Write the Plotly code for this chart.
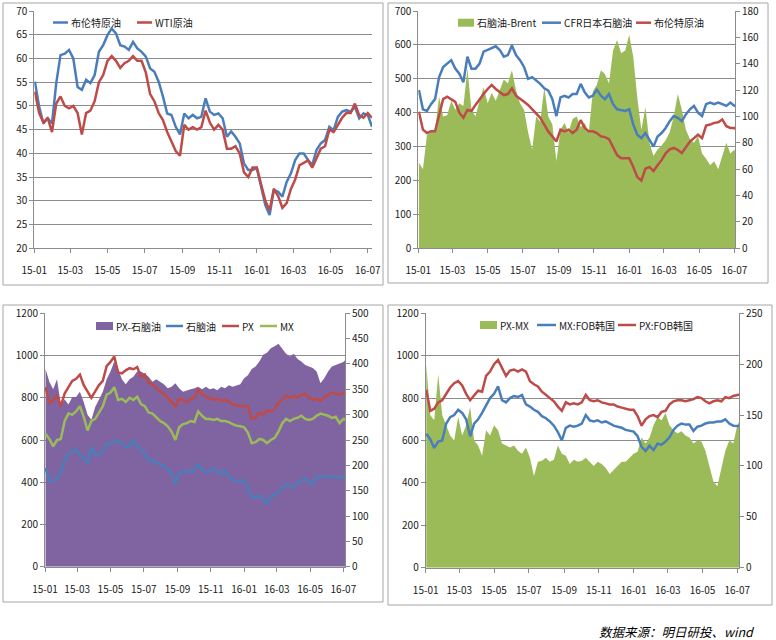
import pandas as pd
import plotly.graph_objects as go

# ---------------- data (weekly readings) ----------------
dates = pd.date_range("2015-01-02", periods=80, freq="7D")

tick_vals = ["2015-01-01", "2015-03-01", "2015-05-01", "2015-07-01", "2015-09-01",
             "2015-11-01", "2016-01-01", "2016-03-01", "2016-05-01", "2016-07-01"]
tick_text = ["15-01", "15-03", "15-05", "15-07", "15-09",
             "15-11", "16-01", "16-03", "16-05", "16-07"]

# Panel 1 ($/bbl)
brent = [55.1, 49.8, 46.3, 47.4, 46.3, 54.8, 60.7, 61.0, 61.8, 60.0,
         54.0, 53.4, 55.5, 54.8, 56.5, 61.4, 62.8, 64.9, 66.3, 65.3,
         62.8, 62.5, 61.8, 63.5, 62.1, 61.4, 60.4, 57.9, 57.2, 55.1,
         52.0, 48.4, 48.1, 45.6, 44.0, 48.4, 47.4, 48.1, 47.4, 47.7,
         51.6, 48.8, 48.1, 48.4, 47.4, 43.5, 44.6, 43.5, 42.1, 37.9,
         36.5, 36.5, 36.9, 33.0, 29.1, 27.0, 32.3, 31.9, 30.9, 34.0,
         35.8, 38.6, 40.0, 40.0, 38.6, 37.6, 40.7, 42.1, 42.8, 45.6,
         44.9, 47.7, 48.8, 49.1, 48.8, 49.8, 47.4, 48.4, 48.1, 45.6]
wti = [53.0, 48.5, 46.5, 47.5, 44.5, 50.5, 52.0, 50.0, 49.5, 50.0,
       48.5, 44.0, 48.5, 49.0, 51.0, 55.0, 56.5, 59.5, 60.5, 59.5,
       58.0, 59.0, 59.5, 60.5, 59.5, 59.5, 57.0, 52.5, 51.0, 48.5,
       47.0, 44.5, 42.5, 40.5, 39.5, 46.0, 45.0, 45.5, 45.0, 45.5,
       49.0, 46.5, 45.0, 46.0, 45.0, 41.0, 41.0, 41.5, 40.0, 36.0,
       35.0, 37.0, 37.0, 33.5, 30.0, 28.0, 32.5, 31.0, 28.5, 29.5,
       32.5, 34.5, 37.5, 38.0, 38.5, 37.0, 39.0, 41.0, 41.5, 45.0,
       44.5, 46.0, 47.5, 48.5, 48.5, 50.5, 48.0, 47.5, 48.5, 47.5]

# Panel 2
naphtha_brent = [65, 60, 86, 88, 90, 115, 100, 101, 112, 105,
                 110, 108, 136, 105, 100, 112, 122, 110, 118, 112,
                 120, 128, 125, 135, 120, 110, 105, 88, 75, 100,
                 96, 122, 100, 94, 66, 90, 95, 88, 98, 100,
                 92, 95, 88, 119, 124, 135, 132, 125, 150, 158,
                 148, 150, 162, 145, 114, 90, 107, 80, 70, 75,
                 78, 82, 88, 100, 117, 105, 90, 83, 80, 85,
                 72, 68, 63, 66, 60, 70, 80, 72, 75, 65]
naphtha = [467, 410, 405, 425, 440, 505, 535, 545, 555, 530,
           515, 490, 565, 530, 530, 545, 580, 585, 590, 596,
           585, 565, 570, 598, 570, 555, 535, 500, 505, 495,
           485, 472, 465, 440, 390, 445, 450, 445, 455, 455,
           485, 460, 445, 450, 468, 450, 440, 455, 425, 410,
           408, 405, 410, 365, 335, 325, 340, 320, 300, 330,
           340, 355, 375, 390, 385, 375, 395, 410, 420, 400,
           390, 425, 430, 425, 430, 425, 420, 430, 420, 425]
brent_t = [403, 350, 340, 345, 345, 395, 440, 447, 440, 432,
           400, 385, 408, 405, 423, 440, 455, 470, 482, 470,
           462, 452, 455, 472, 450, 440, 432, 423, 410, 400,
           385, 365, 344, 330, 315, 350, 345, 350, 340, 350,
           378, 355, 345, 345, 340, 330, 328, 322, 300, 275,
           266, 266, 266, 240, 210, 200, 235, 240, 228, 245,
           260, 280, 292, 296, 290, 281, 300, 315, 325, 335,
           325, 362, 365, 370, 372, 380, 360, 355, 355, 345]

# Panel 3
px_naphtha = [390, 365, 350, 370, 320, 330, 320, 335, 335, 345,
              325, 300, 290, 315, 330, 345, 370, 385, 405, 390,
              370, 360, 370, 375, 385, 385, 380, 375, 365, 370,
              365, 360, 352, 355, 362, 352, 345, 348, 350, 352,
              355, 350, 355, 350, 352, 348, 355, 352, 358, 355,
              358, 360, 372, 378, 390, 395, 405, 418, 422, 431,
              435, 440, 430, 420, 415, 420, 410, 405, 398, 395,
              392, 385, 362, 372, 385, 395, 398, 400, 404, 412]
px = [850, 775, 790, 810, 760, 820, 850, 880, 890, 910,
      860, 830, 800, 830, 860, 880, 950, 970, 995, 920,
      915, 930, 940, 935, 945, 900, 910, 870, 865, 845,
      830, 820, 800, 775, 760, 795, 790, 780, 795, 800,
      840, 815, 805, 800, 790, 795, 785, 790, 780, 770,
      765, 760, 762, 758, 700, 705, 730, 720, 740, 735,
      745, 775, 790, 810, 800, 810, 800, 815, 820, 800,
      790, 795, 785, 800, 815, 825, 820, 815, 825, 830]
mx = [630, 605, 570, 600, 605, 690, 725, 720, 735, 760,
      710, 645, 690, 700, 730, 760, 815, 825, 850, 790,
      795, 780, 800, 790, 805, 770, 760, 730, 725, 705,
      690, 680, 665, 640, 600, 660, 675, 680, 690, 685,
      735, 715, 700, 700, 695, 700, 690, 690, 685, 675,
      668, 665, 660, 635, 585, 590, 605, 600, 585, 600,
      610, 640, 680, 700, 690, 700, 705, 715, 700, 695,
      700, 715, 725, 720, 715, 705, 710, 680, 700, 695]

# Panel 4
px_mx = [200, 150, 145, 190, 150, 140, 130, 125, 148, 130,
         140, 158, 125, 120, 110, 135, 130, 140, 135, 122,
         120, 118, 120, 115, 112, 118, 108, 90, 104, 105,
         108, 104, 106, 120, 112, 110, 102, 106, 104, 105,
         108, 104, 100, 104, 102, 98, 92, 96, 100, 104,
         104, 108, 112, 114, 128, 122, 128, 140, 148, 145,
         152, 140, 135, 132, 134, 130, 128, 122, 125, 124,
         115, 100, 85, 80, 98, 115, 125, 122, 140, 147]
mx_fob_korea = [632, 605, 565, 595, 600, 680, 710, 720, 745, 730,
                700, 620, 680, 700, 730, 765, 800, 820, 855, 790,
                780, 800, 810, 805, 815, 770, 760, 745, 735, 715,
                705, 690, 670, 640, 600, 660, 670, 665, 670, 680,
                720, 695, 690, 695, 685, 690, 680, 670, 665, 660,
                650, 645, 642, 620, 570, 550, 575, 555, 585, 580,
                595, 615, 650, 670, 680, 675, 675, 645, 665, 670,
                680, 685, 685, 690, 690, 700, 680, 670, 670, 668]
px_fob_korea = [840, 740, 750, 780, 790, 820, 850, 870, 880, 860,
                820, 790, 810, 835, 830, 905, 925, 960, 980, 940,
                905, 930, 935, 925, 935, 925, 880, 865, 855, 830,
                815, 800, 785, 760, 740, 780, 770, 775, 770, 780,
                815, 790, 785, 790, 780, 775, 770, 770, 760, 755,
                750, 745, 745, 715, 670, 700, 715, 720, 710, 735,
                740, 770, 785, 790, 790, 785, 790, 795, 805, 800,
                785, 775, 785, 790, 785, 805, 800, 810, 815, 818]

# ---------------- styling ----------------
W, H = 776, 640
BLUE = "#4A7EBB"
RED = "#BE4B48"
GREEN_LINE = "#9BBB59"
GREEN_FILL = "#9BBB59"
PURPLE = "#8064A2"
GRID = "#8C8C8C"
TXT = "#1A1A1A"
FONT = "Liberation Sans Narrow, Noto Sans CJK SC, sans-serif"
LW = 2.5


def fx(x):
    return x / W


def fy(y):
    return 1 - y / H


fig = go.Figure()


def line(x, y, color, xa, ya):
    fig.add_trace(go.Scatter(x=x, y=y, mode="lines", line=dict(color=color, width=LW),
                             xaxis=xa, yaxis=ya, showlegend=False, hoverinfo="skip"))


def area(x, y, color, xa, ya):
    fig.add_trace(go.Scatter(x=x, y=y, mode="lines", line=dict(width=0, color=color),
                             fill="tozeroy", fillcolor=color,
                             xaxis=xa, yaxis=ya, showlegend=False, hoverinfo="skip"))


# Panel 1
line(dates, brent, BLUE, "x", "y")
line(dates, wti, RED, "x", "y")
# Panel 2
area(dates, naphtha_brent, GREEN_FILL, "x2", "y2")
line(dates, naphtha, BLUE, "x2", "y3")
line(dates, brent_t, RED, "x2", "y3")
# Panel 3
area(dates, px_naphtha, PURPLE, "x3", "y4")
line(dates, naphtha, BLUE, "x3", "y5")
line(dates, px, RED, "x3", "y5")
line(dates, mx, GREEN_LINE, "x3", "y5")
# Panel 4
area(dates, px_mx, GREEN_FILL, "x4", "y6")
line(dates, mx_fob_korea, BLUE, "x4", "y7")
line(dates, px_fob_korea, RED, "x4", "y7")

tickfont = dict(family=FONT, size=10, color=TXT)
common = dict(showline=True, linecolor=GRID, linewidth=1, ticks="outside", ticklen=4,
              tickcolor=GRID, tickfont=tickfont, zeroline=False, fixedrange=True,
              automargin=False)


def xaxis(x0, x1, end, anchor):
    return dict(common, type="date", domain=[fx(x0), fx(x1)], range=["2015-01-01", end],
                tickvals=tick_vals, ticktext=tick_text, showgrid=False, anchor=anchor,
                ticklabelstandoff=9)


def yaxis(y0, y1, rng, dtick, anchor, side="left", grid=True, overlaying=None):
    d = dict(common, domain=[fy(y1), fy(y0)], range=rng, dtick=dtick, anchor=anchor,
             side=side, showgrid=grid, gridcolor=GRID, gridwidth=1)
    if overlaying:
        d.pop("domain")
        d["overlaying"] = overlaying
    return d


fig.update_layout(
    width=W, height=H, autosize=False,
    margin=dict(l=0, r=0, t=0, b=0, pad=0),
    paper_bgcolor="white", plot_bgcolor="white",
    showlegend=False,
    xaxis=xaxis(34.3, 372.0, "2016-07-08", "y"),
    yaxis=yaxis(11, 248.3, [20, 70], 5, "x"),
    xaxis2=xaxis(418.3, 735.0, "2016-07-02", "y2"),
    yaxis2=yaxis(11, 248.3, [0, 180], 20, "x2", side="right", grid=False),
    yaxis3=yaxis(11, 248.3, [0, 700], 100, "x2", side="left", overlaying="y2"),
    xaxis3=xaxis(45.0, 345.0, "2016-07-04", "y4"),
    yaxis4=yaxis(313.3, 566.7, [0, 500], 50, "x3", side="right", grid=False),
    yaxis5=yaxis(313.3, 566.7, [0, 1200], 200, "x3", side="left", overlaying="y4"),
    xaxis4=xaxis(425.7, 739.0, "2016-07-04", "y6"),
    yaxis6=yaxis(313.3, 567.7, [0, 250], 50, "x4", side="right", grid=False),
    yaxis7=yaxis(313.3, 567.7, [0, 1200], 200, "x4", side="left", overlaying="y6"),
)

shapes = []
annotations = []

# panel borders
for (x0, y0, x1, y1) in [(3, 3, 383, 285), (388, 3, 768, 283), (3, 305, 383, 602), (388, 305, 772, 605)]:
    shapes.append(dict(type="rect", xref="paper", yref="paper", x0=fx(x0), x1=fx(x1),
                       y0=fy(y1), y1=fy(y0), line=dict(color="#A6A6A6", width=1),
                       fillcolor="rgba(0,0,0,0)", layer="below"))

legfont = dict(family=FONT, size=10, color=TXT)


def leg_line(x0, x1, y, color, label):
    shapes.append(dict(type="line", xref="paper", yref="paper", x0=fx(x0), x1=fx(x1),
                       y0=fy(y), y1=fy(y), line=dict(color=color, width=LW)))
    annotations.append(dict(xref="paper", yref="paper", x=fx(x1 + 1), y=fy(y), text=label,
                            showarrow=False, xanchor="left", yanchor="middle", font=legfont))


def leg_box(x0, x1, y, color, label):
    shapes.append(dict(type="rect", xref="paper", yref="paper", x0=fx(x0), x1=fx(x1),
                       y0=fy(y + 4), y1=fy(y - 4), line=dict(width=0), fillcolor=color))
    annotations.append(dict(xref="paper", yref="paper", x=fx(x1 + 1), y=fy(y), text=label,
                            showarrow=False, xanchor="left", yanchor="middle", font=legfont))


leg_line(53, 68, 22.5, BLUE, "布伦特原油")
leg_line(137, 152, 22.5, RED, "WTI原油")

leg_box(458, 474, 22.7, GREEN_FILL, "石脑油-Brent")
leg_line(542, 561, 22.7, BLUE, "CFR日本石脑油")
leg_line(636, 651, 22.7, RED, "布伦特原油")

leg_box(96, 113, 326, PURPLE, "PX-石脑油")
leg_line(166, 183, 326, BLUE, "石脑油")
leg_line(222, 239, 326, RED, "PX")
leg_line(260, 277, 326, GREEN_LINE, "MX")

leg_box(480, 497, 325, GREEN_FILL, "PX-MX")
leg_line(537, 556, 325, BLUE, "MX:FOB韩国")
leg_line(618, 636, 325, RED, "PX:FOB韩国")

annotations.append(dict(xref="paper", yref="paper", x=fx(597), y=fy(631),
                        text="数据来源：明日研投、wind", showarrow=False,
                        xanchor="left", yanchor="middle",
                        font=dict(family="Noto Sans CJK SC, sans-serif", size=12.5,
                                  color="#000000", style="italic")))

fig.update_layout(shapes=shapes, annotations=annotations)

fig.write_html("out.html",
               config={"displayModeBar": False, "staticPlot": True},
               post_script="document.body.style.margin='0px';document.body.style.overflow='hidden';")
